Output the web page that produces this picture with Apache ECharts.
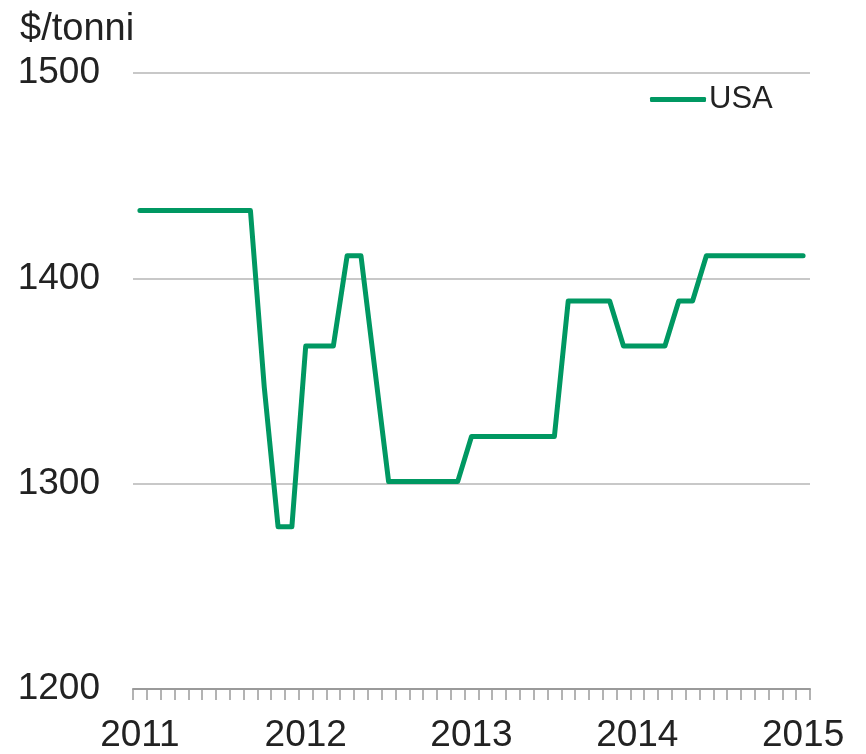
<!DOCTYPE html>
<html>
<head>
<meta charset="utf-8">
<script src="https://cdn.jsdelivr.net/npm/echarts@6/dist/echarts.min.js"></script>
<style>
  html, body { margin: 0; padding: 0; background: #fff; }
  #chart { width: 866px; height: 754px; }
</style>
</head>
<body>
<div id="chart"></div>
<script>
// monthly prices, Jan 2011 .. Jan 2015
let yearLabels = ['2011', '2012', '2013', '2014', '2015']
let usaPrice = [
  1433, 1433, 1433, 1433, 1433, 1433, 1433, 1433, 1433,
  1347, 1279, 1279,
  1367, 1367, 1367, 1411, 1411, 1356,
  1301, 1301, 1301, 1301, 1301, 1301,
  1323, 1323, 1323, 1323, 1323, 1323, 1323,
  1389, 1389, 1389, 1389,
  1367, 1367, 1367, 1367,
  1389, 1389,
  1411, 1411, 1411, 1411, 1411, 1411, 1411, 1411
]
let yTicks = [1200, 1300, 1400, 1500]

let months = []
for (let i = 0; i < usaPrice.length; i++) {
  months.push(i % 12 === 0 ? yearLabels[i / 12] : 'm' + i)
}

let textColor = '#222'
let lineColor = '#009862'
let fontFamily = '"Liberation Sans", Arial, sans-serif'

let chartDom = document.getElementById('chart')
let myChart = echarts.init(chartDom)
let option = {
  animation: false,
  title: {
    text: '$/tonni',
    left: 15,
    top: 6,
    textStyle: {
      color: textColor,
      fontSize: 38,
      fontWeight: 'normal',
      fontFamily: fontFamily
    }
  },
  legend: {
    data: ['USA'],
    left: 650,
    top: 84,
    padding: 0,
    itemWidth: 56,
    itemHeight: 5,
    itemGap: 4,
    icon: 'roundRect',
    textStyle: {
      color: textColor,
      fontSize: 31,
      fontFamily: fontFamily,
      padding: [0, 0, 0, -2]
    }
  },
  grid: {
    left: 133,
    right: 56,
    top: 73,
    bottom: 63
  },
  xAxis: {
    type: 'category',
    data: months,
    boundaryGap: true,
    axisLine: { lineStyle: { color: '#9a9a9a', width: 2 } },
    axisTick: {
      show: true,
      interval: 0,
      length: 11,
      lineStyle: { color: '#9a9a9a', width: 1.5 }
    },
    axisLabel: {
      interval: function (index) {
        return index % 12 === 0
      },
      margin: 28,
      color: textColor,
      fontSize: 37,
      fontFamily: fontFamily
    },
    splitLine: { show: false }
  },
  yAxis: {
    type: 'value',
    min: yTicks[0],
    max: yTicks[yTicks.length - 1],
    interval: 100,
    axisLine: { show: false },
    axisTick: { show: false },
    axisLabel: {
      margin: 33,
      color: textColor,
      fontSize: 37,
      fontFamily: fontFamily,
      formatter: function (value) {
        return String(value)
      }
    },
    splitLine: {
      lineStyle: { color: '#c8c8c8', width: 2 }
    }
  },
  series: [
    {
      name: 'USA',
      type: 'line',
      data: usaPrice,
      symbol: 'none',
      lineStyle: { color: lineColor, width: 5, cap: 'round', join: 'round' },
      itemStyle: { color: lineColor }
    }
  ]
}
myChart.setOption(option, true)
</script>
</body>
</html>
